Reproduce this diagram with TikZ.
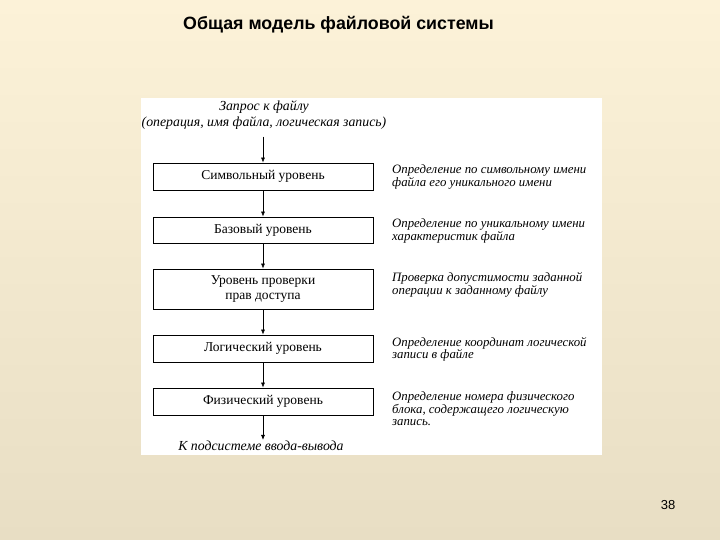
\documentclass[tikz,border=0pt]{standalone}
\usepackage{fontspec}
\setmainfont{Liberation Serif}
\newfontfamily\titlefont{Liberation Sans}
\begin{document}
\begin{tikzpicture}[x=1pt,y=-1pt,
  lvl/.style={draw=black,line width=0.8pt,fill=white,minimum width=220pt,inner sep=0pt,align=center,font=\fontsize{13.5}{15}\selectfont},
  note/.style={anchor=west,align=left,inner sep=0pt,font=\fontsize{12.8}{12.5}\selectfont\itshape},
  arr/.style={-{Latex[length=5pt,width=4pt]},line width=0.6pt},
  lbl/.style={align=center,inner sep=1pt,font=\fontsize{13.8}{16}\selectfont\itshape}]
\usetikzlibrary{arrows.meta}
\shade[top color={rgb,255:red,252;green,242;blue,216},bottom color={rgb,255:red,232;green,222;blue,196}] (0,0) rectangle (720,540);
\useasboundingbox (0,0) rectangle (720,540);
\node[font=\titlefont\bfseries\fontsize{17.8}{20}\selectfont,anchor=west,inner sep=0pt] (title) at (183,25) {Общая модель файловой системы};
\fill[white] (141,98) rectangle (602,455);
\node[lbl] (req) at (264,115) {Запрос к файлу\\(операция, имя файла, логическая запись)};
\node[lvl,minimum height=27pt] (l1) at (263,176.5) {Символьный уровень};
\node[lvl,minimum height=26pt] (l2) at (263,230) {Базовый уровень};
\node[lvl,minimum height=40pt] (l3) at (263,289) {Уровень проверки\\прав доступа};
\node[lvl,minimum height=27pt] (l4) at (263,348.5) {Логический уровень};
\node[lvl,minimum height=27pt] (l5) at (263,401.5) {Физический уровень};
\node[lbl] (io) at (261,446) {К подсистеме ввода-вывода};
\draw[arr,shorten <=6pt] (l1.north |- req.south) -- (l1.north);
\draw[arr] (l1) -- (l2);
\draw[arr] (l2) -- (l3);
\draw[arr] (l3) -- (l4);
\draw[arr] (l4) -- (l5);
\draw[arr] (l5.south) -- (l5.south |- io.north);
\node[note] (n1) at (392,177) {Определение по символьному имени\\файла его уникального имени};
\node[note] (n2) at (392,231) {Определение по уникальному имени\\характеристик файла};
\node[note] (n3) at (392,285) {Проверка допустимости заданной\\операции к заданному файлу};
\node[note] (n4) at (392,349.5) {Определение координат логической\\записи в файле};
\node[note] (n5) at (392,409) {Определение номера физического\\блока, содержащего логическую\\запись.};
\node[font=\titlefont\fontsize{13}{14}\selectfont,inner sep=0pt] (num) at (668,505) {38};
\end{tikzpicture}
\end{document}
